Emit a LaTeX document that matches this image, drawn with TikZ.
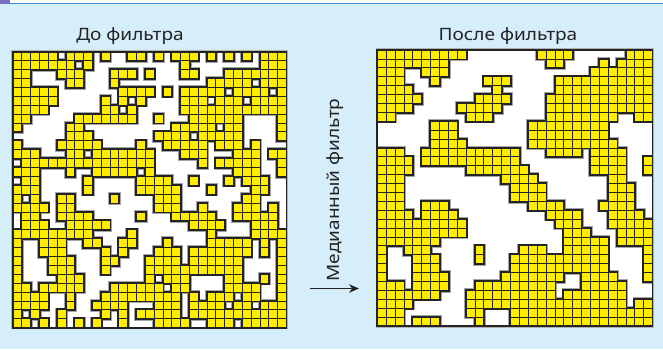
\documentclass[tikz,border=0pt]{standalone}
\usepackage{fontspec}
\setmainfont{Noto Sans}[FakeStretch=1.12]
\usetikzlibrary{arrows.meta}
\definecolor{bgblue}{RGB}{214,237,250}
\definecolor{cellyel}{RGB}{255,237,0}
\definecolor{topblue}{RGB}{50,140,215}
\definecolor{topviolet}{RGB}{120,110,200}
\definecolor{inkgray}{RGB}{35,35,35}
\newcount\Gcol
\def\Gstop{Gstop-marker}
\def\Gscan#1{\ifx#1\Gstop\else\if#11\Gcell\fi\advance\Gcol by 1 \expandafter\Gscan\fi}
\def\Grow#1#2{\Gcol=0 \def\Growidx{#1}\expandafter\Gscan#2\Gstop}
\def\Gcell{\path[cellpass] ({\Gx+\the\Gcol*\Gw},{\Gy+\Growidx*\Gh}) rectangle ++(\Gw,\Gh);}
\newcommand\drawGrid[5]{%
  \def\Gx{#2}\def\Gy{#3}\def\Gw{#4}\def\Gh{#5}%
  \draw[black!30,line width=3.6bp] (#2,#3) rectangle ++({31*#4},{31*#5});
  \fill[white] (#2,#3) rectangle ++({31*#4},{31*#5});
  \begin{scope}
    \clip (#2,#3) rectangle ++({31*#4},{31*#5});
    \tikzset{cellpass/.style={draw=black!35,line width=4.4bp}}
    \foreach \s [count=\r from 0] in #1 {\Grow{\r}{\s}}
    \tikzset{cellpass/.style={draw=inkgray,line width=2.8bp}}
    \foreach \s [count=\r from 0] in #1 {\Grow{\r}{\s}}
    \tikzset{cellpass/.style={fill=cellyel,draw=inkgray,line width=0.8bp}}
    \foreach \s [count=\r from 0] in #1 {\Grow{\r}{\s}}
  \end{scope}
  \draw[inkgray,line width=1.8bp] (#2,#3) rectangle ++({31*#4},{31*#5});
}
\def\Lrows{%
1111101110100110101110101010111,%
1111111010000000000100000000111,%
1100011100011101000110001111111,%
1100001100010000000000111110111,%
1111100000001111010111110111101,%
1111100000101010000111011101111,%
1111000000110100000111111111111,%
1100000111111100100011111100001,%
1000001100000000001111101100001,%
0000001110000000111101111100001,%
1000011111000010011111011101000,%
1110001101111111000111000111011,%
0111111111111111000001011111001,%
1110001001111101000000000111001,%
0110000010000011110010001011100,%
1110000010000011111000100001100,%
1010011000010000111000000011000,%
1111011000000000111001000111010,%
0110011110000010001111100111110,%
0111001111100000000011110001110,%
1111111110000100000000100001111,%
1001110011001100010000111110101,%
1001110000101000111011111110101,%
1000111000110001111011111100001,%
1000111000100001111111111100001,%
1000011100000001011100001100101,%
1101111100011111101100001111001,%
1111001000111111111010111011001,%
1111001001111000111011110110111,%
1010010000101011111011111111111,%
1101010101001000111100111011111}
\def\Rrows{%
1111111111000000001111000000111,%
1111111100000000000110000101111,%
1110011100000000000000001111111,%
1110001000001110000011111111111,%
1111000000000100000011111111111,%
1111100000011110000111111111111,%
1111000001111100000111111111111,%
1100000000111000000111111110011,%
0000001110000000011111111100000,%
0000001110000000011111111100000,%
0000001111000000011111111110000,%
1110011111111111000111101111000,%
1111011111111111000000001111001,%
1111000000111111100000001111001,%
1110000000000011110000000011000,%
1110000000000001111000000011100,%
1110000000000001111000000011100,%
1110011100000000011110000111100,%
1111011110000000000111100011110,%
1111111111000000000011100011111,%
1111111111000000000001110001111,%
1111111000000000000001111101111,%
1001110000010000111001111100001,%
1000111000010001111111111100001,%
1000111000000001111111111100001,%
1000111100000011111110011110001,%
1110111100011111111100011111000,%
1111111000111111111101111111000,%
1111000000111111111111111111011,%
1110000000110001111111111111111,%
1110111000010001111111111111111}
\begin{document}
\begin{tikzpicture}[x=1bp,y=-1bp,
  titletext/.style={font=\fontsize{17bp}{20bp}\selectfont,text=inkgray,inner sep=0pt,anchor=base},
  arrowline/.style={line width=1.7bp,inkgray,-{Stealth[length=10bp,width=8.5bp]}}]
  \useasboundingbox (0,0) rectangle (663,349);
  \fill[bgblue] (0,0) rectangle (663,349);
  \fill[white] (0,0) rectangle (663,3);
  \draw[topblue,line width=1.2bp] (0,3.6) -- (663,3.6);
  \fill[topviolet] (0,0) rectangle (10,4);
  \drawGrid{\Lrows}{13}{51.7}{8.82}{8.9}
  \drawGrid{\Rrows}{377.3}{50}{8.88}{8.9}
  \node[titletext] (tleft) at (130,40) {До фильтра};
  \node[titletext] (tright) at (508,40) {После фильтра};
  \node[titletext,anchor=center,rotate=90] (mlabel) at (335,190) {Медианный фильтр};
  \coordinate (arrA) at (310,288.5);
  \coordinate (arrB) at (359,288.5);
  \draw[arrowline] (arrA) -- (arrB);
\end{tikzpicture}
\end{document}
